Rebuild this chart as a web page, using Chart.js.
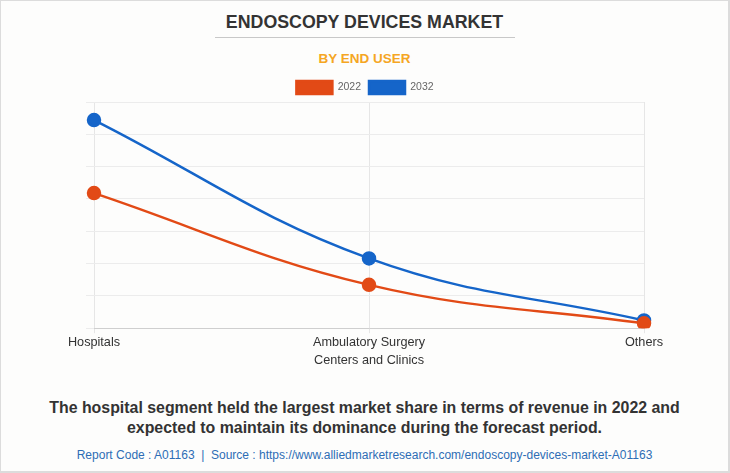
<!DOCTYPE html>
<html>
<head>
<meta charset="utf-8">
<script src="https://cdn.jsdelivr.net/npm/chart.js@4"></script>
<style>
  html, body { margin: 0; padding: 0; background: #fff; }
  #frame { position: relative; width: 730px; height: 473px; box-sizing: border-box;
    border: 1px solid #dcdcdc; border-right-width: 2px; border-bottom-width: 2px; background: #fdfdfc;
    font-family: "Liberation Sans", Arial, sans-serif; overflow: hidden; }
  #title { position: absolute; left: 0; right: 0; top: 11px; text-align: center; font-weight: bold;
    font-size: 17.8px; color: #333; }
  #rule { position: absolute; left: 214px; width: 300px; top: 36px; height: 1px; background: #c8c8c8; }
  #sub { position: absolute; left: 0; right: 0; top: 50px; text-align: center; font-weight: bold;
    font-size: 13.5px; color: #f5a623; }
  #chartBox { position: absolute; left: -1px; top: 72px; width: 730px; height: 299px; }
  #note { position: absolute; left: 0; right: 0; top: 397px; text-align: center; font-weight: bold;
    font-size: 15.9px; line-height: 20px; color: #333; }
  #src { position: absolute; left: 0; right: 0; top: 447px; text-align: center; font-size: 12px; color: #2d6db5; }
</style>
</head>
<body>
<div id="frame">
  <div id="title">ENDOSCOPY DEVICES MARKET</div>
  <div id="rule"></div>
  <div id="sub">BY END USER</div>
  <div id="chartBox"><canvas id="c"></canvas></div>
  <div id="note">The hospital segment held the largest market share in terms of revenue in 2022 and<br>expected to maintain its dominance during the forecast period.</div>
  <div id="src">Report Code : A01163 &nbsp;|&nbsp; Source : https://www.alliedmarketresearch.com/endoscopy-devices-market-A01163</div>
</div>
<script>
const categories = [["Hospitals"], ["Ambulatory Surgery", "Centers and Clinics"], ["Others"]];
const seriesNames = ["2022", "2032"];
const values2022 = [4.18, 1.34, 0.15];
const values2032 = [6.44, 2.16, 0.24];
const yTicks = [0, 1, 2, 3, 4, 5, 6, 7];

const colors = ["#e24a16", "#1565c9"];

// keep the legend block a fixed height so the plot top sits just under it
const legendHeightFix = {
  id: 'legendHeightFix',
  beforeLayout(chart) {
    const lg = chart.legend;
    if (lg && !lg._fixed) {
      const orig = lg.fit;
      lg.fit = function () { orig.call(this); this.height = 29; };
      lg._fixed = true;
    }
  }
};

new Chart(document.getElementById('c'), {
  type: 'line',
  data: {
    labels: categories,
    datasets: [values2022, values2032].map((v, i) => ({
      label: seriesNames[i],
      data: v,
      borderColor: colors[i],
      backgroundColor: colors[i],
      pointBackgroundColor: colors[i],
      pointBorderColor: colors[i],
      pointRadius: 6,
      pointHoverRadius: 6,
      borderWidth: 2.5,
      tension: 0.4,
      fill: false
    }))
  },
  plugins: [legendHeightFix],
  options: {
    responsive: true,
    maintainAspectRatio: false,
    animation: false,
    layout: { padding: { left: 86, right: 86, top: 0, bottom: 2 } },
    plugins: {
      legend: {
        position: 'top',
        labels: { boxWidth: 36, boxHeight: 13, padding: 8, color: '#666',
          font: { family: 'Liberation Sans, Arial', size: 10.5 } }
      },
      tooltip: { enabled: false }
    },
    scales: {
      x: {
        offset: false,
        grid: { color: '#e6e6e6', tickLength: 5, drawTicks: true },
        border: { color: '#cfcfcf' },
        ticks: { color: '#333', padding: 0, maxRotation: 0,
          font: { family: 'Liberation Sans, Arial', size: 12.7, lineHeight: 1.45 } }
      },
      y: {
        min: yTicks[0],
        max: yTicks[yTicks.length - 1],
        afterBuildTicks: (scale) => { scale.ticks = yTicks.map(v => ({ value: v })); },
        grid: { color: '#ececec', tickLength: 8 },
        border: { display: false },
        ticks: { display: false }
      }
    }
  }
});
</script>
</body>
</html>
